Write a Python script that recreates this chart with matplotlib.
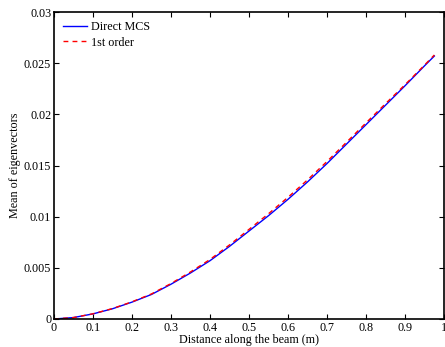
import matplotlib
matplotlib.use("Agg")
import matplotlib.pyplot as plt

# values
x = [0, 0.05, 0.1, 0.15, 0.2, 0.25, 0.3, 0.35, 0.4, 0.45, 0.5, 0.55,
     0.6, 0.65, 0.7, 0.75, 0.8, 0.85, 0.9, 0.95, 0.975]
direct_mcs = [0, 0.00014, 0.0005, 0.001, 0.00165, 0.0024, 0.0034, 0.0045,
              0.0057, 0.0071, 0.0086, 0.0101, 0.0117, 0.0134, 0.0152,
              0.0171, 0.0190, 0.0209, 0.0228, 0.02475, 0.0257]
first_order = [0, 0.00014, 0.00051, 0.00102, 0.00168, 0.00245, 0.00347,
               0.0046, 0.00582, 0.00724, 0.00876, 0.01029, 0.0119, 0.0136,
               0.0154, 0.01728, 0.01917, 0.02105, 0.0229, 0.02482, 0.0258]

plt.rcParams["font.family"] = ["Liberation Serif", "DejaVu Serif"]
plt.rcParams["font.size"] = 8.7

fig = plt.figure(figsize=(4.45, 3.47), dpi=100)
ax = fig.add_axes([0.1213, 0.0807, 0.8767, 0.8847])

ax.plot(x, direct_mcs, color="#0000ff", lw=1.0, label="Direct MCS")
ax.plot(x, first_order, color="#ff0000", lw=1.0, ls=(0, (3.5, 3)), label="1st order")

ax.set_xlim(0, 1)
ax.set_ylim(0, 0.03)
ax.set_xticks([0, 0.1, 0.2, 0.3, 0.4, 0.5, 0.6, 0.7, 0.8, 0.9, 1])
ax.set_xticklabels(["0", "0.1", "0.2", "0.3", "0.4", "0.5", "0.6", "0.7", "0.8", "0.9", "1"])
ax.set_yticks([0, 0.005, 0.01, 0.015, 0.02, 0.025, 0.03])
ax.set_yticklabels(["0", "0.005", "0.01", "0.015", "0.02", "0.025", "0.03"])
ax.tick_params(direction="in", top=True, right=True, length=3.5, width=0.8, pad=2)
for s in ax.spines.values():
    s.set_linewidth(1.2)

ax.set_xlabel("Distance along the beam (m)", labelpad=0)
ax.set_ylabel("Mean of eigenvectors", labelpad=2)
ax.legend(loc="upper left", frameon=False, handlelength=2.0, borderaxespad=0.35,
          handletextpad=0.35, labelspacing=0.3)

fig.savefig("out.png", dpi=100)
